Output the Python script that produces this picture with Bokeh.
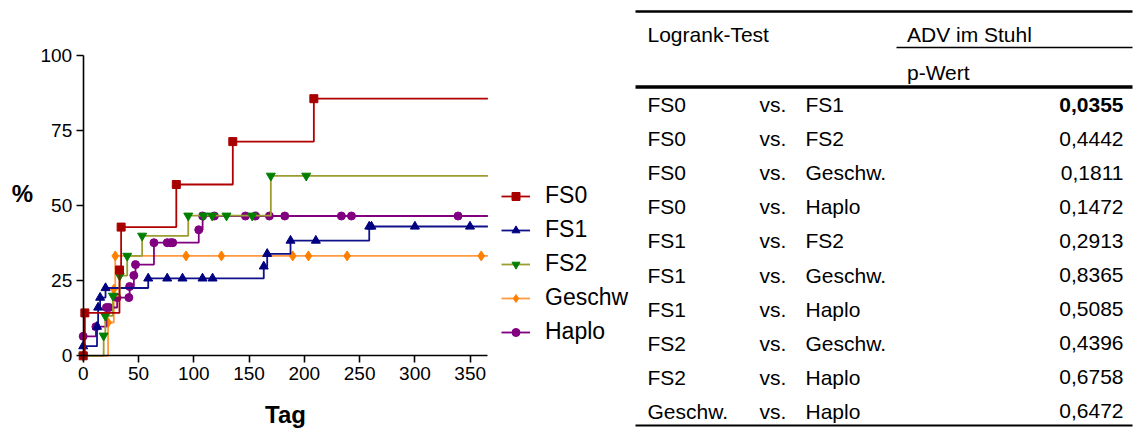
from bokeh.plotting import figure
from bokeh.models import Range1d, Legend, LegendItem, Label, FixedTicker, ColumnDataSource
from bokeh.layouts import row
from bokeh.embed import file_html
from bokeh.resources import INLINE
from bokeh.core.properties import value

# ---------------- data ----------------
END_DAY = 366
x_ticks = [0, 50, 100, 150, 200, 250, 300, 350]
y_ticks = [0, 25, 50, 75, 100]

series_names = ["FS0", "FS1", "FS2", "Geschw", "Haplo"]

fs0_day = [0, 1.5, 32.8, 34.3, 84.2, 135.3, 208.6]
fs0_pct = [0, 14.3, 28.6, 42.9, 57.1, 71.4, 85.7]

fs1_day = [0, 12.5, 13.5, 15.3, 20.2, 58.8, 76.0, 89.8, 107.9, 117.0, 163.3, 166.4, 187.5, 210.4, 258.7, 260.7, 300.0, 349.8]
fs1_pct = [3.2, 9.7, 16.1, 19.4, 22.6, 25.8, 25.8, 25.8, 25.8, 25.8, 29.8, 34.0, 38.4, 38.4, 43.1, 43.1, 43.1, 43.1]

fs2_day = [0, 18.5, 20.0, 26.9, 33.0, 39.8, 53.3, 95.0, 108.8, 116.6, 129.6, 152.8, 169.7, 201.7]
fs2_pct = [0, 6.7, 13.3, 20.0, 26.7, 33.3, 40.0, 46.7, 46.7, 46.7, 46.7, 46.7, 60.0, 60.0]

ge_day = [0, 22.5, 27.7, 29.0, 93.0, 125.0, 189.5, 203.7, 238.7, 360.0]
ge_pct = [0, 11.1, 22.2, 33.3, 33.3, 33.3, 33.3, 33.3, 33.3, 33.3]

ha_day = [0, 11.5, 21.0, 23.5, 30.7, 41.3, 42.0, 45.8, 47.3, 64.0, 76.0, 79.0, 81.0, 104.5, 108.0,
          118.7, 146.7, 155.8, 168.4, 182.3, 233.5, 242.6, 339.0]
ha_pct = [6.5, 9.7, 16.1, 16.1, 19.4, 19.4, 23.1, 26.8, 30.4, 37.7, 37.7, 37.7, 37.7, 42.0, 46.6,
          46.6, 46.6, 46.6, 46.6, 46.6, 46.6, 46.6, 46.6]

tbl_a = ["FS0", "FS0", "FS0", "FS0", "FS1", "FS1", "FS1", "FS2", "FS2", "Geschw."]
tbl_b = ["FS1", "FS2", "Geschw.", "Haplo", "FS2", "Geschw.", "Haplo", "Geschw.", "Haplo", "Haplo"]
p_values = [0.0355, 0.4442, 0.1811, 0.1472, 0.2913, 0.8365, 0.5085, 0.4396, 0.6758, 0.6472]

# ---------------- styles ----------------
FONT = "Liberation Sans"
line_colors = ["#B00000", "#10108A", "#9C9C30", "#FF9A40", "#800080"]
mark_colors = ["#A80000", "#000080", "#008000", "#FF8000", "#800080"]
markers = ["square", "triangle", "inverted_triangle", "diamond", "circle"]
msizes = [8, 9, 9, 10, 8]

# ---------------- chart (frame = whole figure) ----------------
CW, CH = 629, 429
PPD = 387.0 / 350.0      # px per day
PPP = 3.0                # px per percent
X0_PX, Y0_PX = 82.7, 355.3
x_start = -X0_PX / PPD
x_end = x_start + CW / PPD
y_start = -(CH - Y0_PX) / PPP
y_end = Y0_PX / PPP

p = figure(width=CW, height=CH, min_border=0,
           x_range=Range1d(x_start, x_end), y_range=Range1d(y_start, y_end),
           output_backend="svg", toolbar_location=None)
p.outline_line_color = None
p.grid.visible = False

for ax, ticks, bnd in ((p.xaxis, x_ticks, (0, END_DAY)), (p.yaxis, y_ticks, (0, 100))):
    ax.ticker = FixedTicker(ticks=ticks)
    ax.bounds = bnd
    ax.fixed_location = 0
    ax.axis_line_width = 1.6
    ax.axis_line_color = "black"
    ax.major_tick_line_width = 1.6
    ax.major_tick_line_color = "black"
    ax.major_tick_out = 7
    ax.major_tick_in = 0
    ax.minor_tick_line_color = None
    ax.major_label_text_font = FONT
    ax.major_label_text_font_size = "19px"
    ax.major_label_text_color = "black"
    ax.major_label_standoff = 4

days = [fs0_day, fs1_day, fs2_day, ge_day, ha_day]
pcts = [fs0_pct, fs1_pct, fs2_pct, ge_pct, ha_pct]
renderers = {}
for i in [3, 4, 1, 2, 0]:
    d, v = days[i], pcts[i]
    lsrc = ColumnDataSource(dict(x=d + [END_DAY], y=v + [v[-1]]))
    lr = p.step("x", "y", source=lsrc, mode="after", line_color=line_colors[i], line_width=1.8)
    msrc = ColumnDataSource(dict(x=d, y=v))
    sr = p.scatter("x", "y", source=msrc, marker=markers[i], size=msizes[i],
                   fill_color=mark_colors[i], line_color=mark_colors[i])
    renderers[i] = (lr, sr)

items = [LegendItem(label=series_names[i], renderers=list(renderers[i])) for i in range(5)]
legend = Legend(items=items, location=(501, 84), orientation="vertical", padding=0, margin=0,
                spacing=7, glyph_width=29, glyph_height=20, label_height=20, label_standoff=15,
                label_text_font=FONT, label_text_font_size="23px", label_text_color="black",
                border_line_color=None, background_fill_alpha=0)
p.add_layout(legend)


def dx(px):
    return x_start + px / PPD


def dy(py):
    return y_end - py / PPP


p.add_layout(Label(x=dx(22), y=dy(193), text="%", text_font=FONT, text_font_size="24px",
                   text_font_style="bold", text_color="black",
                   text_align="center", text_baseline="middle"))
p.add_layout(Label(x=dx(285), y=dy(414), text="Tag", text_font=FONT, text_font_size="24px",
                   text_font_style="bold", text_color="black",
                   text_align="center", text_baseline="middle"))

# ---------------- table ----------------
TX0 = CW
TW, TH = 1137 - CW, 429
t = figure(width=TW, height=TH, x_range=Range1d(0, TW), y_range=Range1d(TH, 0),
           output_backend="svg", toolbar_location=None, min_border=0)
t.axis.visible = False
t.grid.visible = False
t.outline_line_color = None


def TX(ref):
    return ref - TX0


row_y = [104 + 34.1 * k for k in range(len(tbl_a))]
p_text = [("%.4f" % v).replace(".", ",") for v in p_values]
bold = [v < 0.05 for v in p_values]
n = len(tbl_a)

txt = dict(text_font=value(FONT), text_font_size=value("21px"), text_color="black",
           text_baseline="middle")
t.text(x=[TX(647)] * n, y=row_y, text=tbl_a, text_align="left", **txt)
t.text(x=[TX(759)] * n, y=row_y, text=["vs."] * n, text_align="left", **txt)
t.text(x=[TX(805)] * n, y=row_y, text=tbl_b, text_align="left", **txt)
norm = [k for k in range(n) if not bold[k]]
bld = [k for k in range(n) if bold[k]]
t.text(x=[TX(1123)] * len(norm), y=[row_y[k] for k in norm],
       text=[p_text[k] for k in norm], text_align="right", **txt)
t.text(x=[TX(1123)] * len(bld), y=[row_y[k] for k in bld],
       text=[p_text[k] for k in bld], text_align="right", text_font_style="bold", **txt)
t.text(x=[TX(647), TX(906.5), TX(906.5)], y=[34, 34, 72],
       text=["Logrank-Test", "ADV im Stuhl", "p-Wert"], text_align="left", **txt)

t.segment(x0=[TX(635)], y0=[11], x1=[TX(1132)], y1=[11], line_color="black", line_width=2.5)
t.segment(x0=[TX(896)], y0=[47], x1=[TX(1132)], y1=[47], line_color="black", line_width=1.5)
t.segment(x0=[TX(635)], y0=[86.5], x1=[TX(1132)], y1=[86.5], line_color="black", line_width=3.5)
t.segment(x0=[TX(635)], y0=[425], x1=[TX(1132)], y1=[425], line_color="black", line_width=2)

layout = row(p, t)
open("out.html", "w").write(file_html(layout, INLINE))
